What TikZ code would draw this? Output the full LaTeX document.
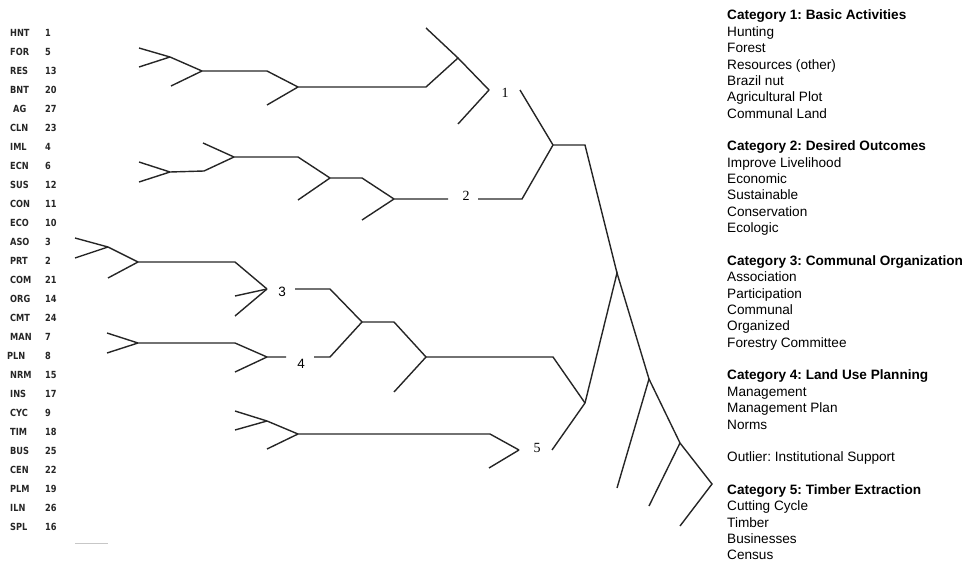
\documentclass[tikz,border=0pt]{standalone}
\usepackage{fontspec}
\setmainfont{Liberation Sans}
\newfontfamily\codefont[FakeStretch=0.84]{DejaVu Sans}
\newfontfamily\serifnum{Liberation Serif}
\frenchspacing

\tikzset{
  br/.style={line width=1.4pt, draw=black!85, line join=miter},
  codelbl/.style={anchor=base west, inner sep=0pt, font=\codefont\bfseries\fontsize{9.8}{10}\selectfont, text=black!85},
  grouplbl/.style={inner sep=0pt, font=\serifnum\fontsize{14}{14}\selectfont},
  grouplblsans/.style={inner sep=0pt, font=\fontsize{13.5}{14}\selectfont},
  legend/.style={anchor=base west, inner sep=0pt, font=\fontsize{13.6}{16}\selectfont}
}

\begin{document}
\begin{tikzpicture}[x=1pt, y=-1pt]
\useasboundingbox (0,0) rectangle (965,564);

% code labels with their item numbers
\foreach \i/\ab/\num/\x in {0/HNT/1/10, 1/FOR/5/10, 2/RES/13/10, 3/BNT/20/10, 4/AG/27/13,
  5/CLN/23/10, 6/IML/4/10, 7/ECN/6/10, 8/SUS/12/10, 9/CON/11/10, 10/ECO/10/10,
  11/ASO/3/10, 12/PRT/2/10, 13/COM/21/10, 14/ORG/14/10, 15/CMT/24/10, 16/MAN/7/10,
  17/PLN/8/7, 18/NRM/15/10, 19/INS/17/10, 20/CYC/9/10, 21/TIM/18/10, 22/BUS/25/10,
  23/CEN/22/10, 24/PLM/19/10, 25/ILN/26/10, 26/SPL/16/10}{
  \node[codelbl] (ab\i) at (\x, 33+19*\i+3.6) {\ab};
  \node[codelbl] (nm\i) at (45, 33+19*\i+3.6) {\num};
}

% ---------- group 1 ----------
\coordinate (a1) at (139,48);  \coordinate (a2) at (139,67);
\coordinate (j1a) at (170,57); \coordinate (a3) at (171,86);
\coordinate (j1b) at (202,71); \coordinate (h1) at (267,71);
\coordinate (j1c) at (298,87); \coordinate (a4) at (267,105);
\coordinate (h1b) at (426,87); \coordinate (j1d) at (458,58);
\coordinate (a5) at (426,28);  \coordinate (j1e) at (489,90);
\coordinate (a6) at (458,124);
\draw[br] (a1) -- (j1a) -- (j1b) -- (h1) -- (j1c) -- (h1b) -- (j1d) -- (j1e);
\draw[br] (a2) -- (j1a);
\draw[br] (a3) -- (j1b);
\draw[br] (a4) -- (j1c);
\draw[br] (a5) -- (j1d);
\draw[br] (a6) -- (j1e);
\node[grouplbl] (n1) at (505,93) {1};
\coordinate (g1out) at (520,90);

% ---------- group 2 ----------
\coordinate (b1) at (139,162); \coordinate (b2) at (139,182);
\coordinate (j2a) at (170,172); \coordinate (h2a) at (204,171);
\coordinate (j2b) at (234,157); \coordinate (b3) at (203,143);
\coordinate (h2b) at (298,157); \coordinate (j2c) at (330,178);
\coordinate (b4) at (298,200);  \coordinate (h2c) at (362,178);
\coordinate (j2d) at (394,199); \coordinate (b5) at (362,220);
\coordinate (g2in) at (448,199);
\coordinate (g2out) at (478,199); \coordinate (h2d) at (522,199);
\draw[br] (b1) -- (j2a) -- (h2a) -- (j2b) -- (h2b) -- (j2c) -- (h2c) -- (j2d) -- (g2in);
\draw[br] (b2) -- (j2a);
\draw[br] (b3) -- (j2b);
\draw[br] (b4) -- (j2c);
\draw[br] (b5) -- (j2d);
\node[grouplbl] (n2) at (466,196) {2};

% groups 1 and 2 joined
\coordinate (r1) at (553,145); \coordinate (r1h) at (585,145);
\coordinate (r2) at (617,273);
\draw[br] (g1out) -- (r1);
\draw[br] (g2out) -- (h2d) -- (r1) -- (r1h) -- (r2);

% ---------- group 3 ----------
\coordinate (c1) at (75,238);  \coordinate (c2) at (75,258);
\coordinate (j3a) at (108,247); \coordinate (c3) at (108,278);
\coordinate (j3b) at (138,262); \coordinate (h3a) at (235,262);
\coordinate (j3c) at (267,289);
\coordinate (c4) at (235,296);  \coordinate (c5) at (235,316);
\draw[br] (c1) -- (j3a) -- (j3b) -- (h3a) -- (j3c);
\draw[br] (c2) -- (j3a);
\draw[br] (c3) -- (j3b);
\draw[br] (c4) -- (j3c);
\draw[br] (c5) -- (j3c);
\node[grouplblsans] (n3) at (282,292) {3};
\coordinate (g3out) at (295,289); \coordinate (h3b) at (330,289);

% ---------- group 4 ----------
\coordinate (d1) at (107,333); \coordinate (d2) at (107,353);
\coordinate (j4a) at (138,343); \coordinate (h4a) at (235,343);
\coordinate (j4b) at (267,357); \coordinate (d3) at (235,372);
\coordinate (g4in) at (286,357);
\coordinate (g4out) at (314,357); \coordinate (h4b) at (330,357);
\draw[br] (d1) -- (j4a) -- (h4a) -- (j4b) -- (g4in);
\draw[br] (d2) -- (j4a);
\draw[br] (d3) -- (j4b);
\node[grouplblsans] (n4) at (301,364) {4};

% groups 3 and 4 joined, then the outlier
\coordinate (j34) at (362,322); \coordinate (h34) at (394,322);
\coordinate (j34b) at (426,357); \coordinate (d4) at (394,392);
\coordinate (h34b) at (553,357); \coordinate (r3) at (585,403);
\draw[br] (g3out) -- (h3b) -- (j34);
\draw[br] (g4out) -- (h4b) -- (j34) -- (h34) -- (j34b) -- (h34b) -- (r3);
\draw[br] (d4) -- (j34b);

% ---------- group 5 ----------
\coordinate (e1) at (235,411); \coordinate (e2) at (235,430);
\coordinate (j5a) at (267,421); \coordinate (e3) at (267,449);
\coordinate (j5b) at (298,434); \coordinate (h5) at (490,434);
\coordinate (j5c) at (519,450); \coordinate (e4) at (489,468);
\coordinate (g5out) at (552,450);
\draw[br] (e1) -- (j5a) -- (j5b) -- (h5) -- (j5c);
\draw[br] (e2) -- (j5a);
\draw[br] (e3) -- (j5b);
\draw[br] (e4) -- (j5c);
\node[grouplbl] (n5) at (537,448) {5};
\draw[br] (g5out) -- (r3);

% ---------- trunk ----------
\coordinate (r4) at (649,379); \coordinate (r5) at (680,443);
\coordinate (r6) at (712,484);
\coordinate (f1) at (617,488); \coordinate (f2) at (649,506);
\coordinate (f3) at (680,526);
\draw[br] (r3) -- (r2) -- (r4) -- (r5) -- (r6) -- (f3);
\draw[br] (r4) -- (f1);
\draw[br] (r5) -- (f2);

% faint rule under the code list
\coordinate (rl) at (75,543); \coordinate (rr) at (108,543);
\draw[black!22, line width=1pt] (rl) -- (rr);

% legend
\foreach \i/\t in {0/{\bfseries Category 1: Basic Activities}, 1/Hunting, 2/Forest,
  3/Resources (other), 4/Brazil nut, 5/Agricultural Plot, 6/Communal Land,
  8/{\bfseries Category 2: Desired Outcomes}, 9/Improve Livelihood, 10/Economic,
  11/Sustainable, 12/Conservation, 13/Ecologic,
  15/{\bfseries Category 3: Communal Organization}, 16/Association, 17/Participation,
  18/Communal, 19/Organized, 20/Forestry Committee,
  22/{\bfseries Category 4: Land Use Planning}, 23/Management, 24/Management Plan, 25/Norms,
  27/Outlier: Institutional Support,
  29/{\bfseries Category 5: Timber Extraction}, 30/Cutting Cycle, 31/Timber,
  32/Businesses, 33/Census}{
  \node[legend] (t\i) at (727, 15+16.36*\i+5) {\t};
}
\end{tikzpicture}
\end{document}
